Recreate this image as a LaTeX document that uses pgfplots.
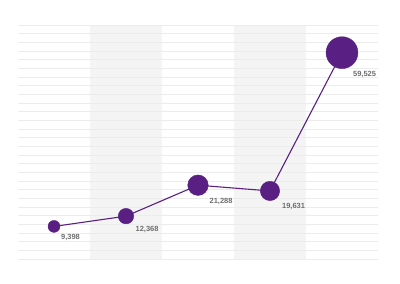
\documentclass[border=0pt]{standalone}
\usepackage{pgfplots}
\pgfplotsset{compat=1.18}
\usepackage{pgfplotstable}
\usepackage{fontspec}
\setmainfont{Liberation Sans}
\definecolor{purp}{HTML}{5A1F82}
\definecolor{band}{HTML}{F4F4F4}
\definecolor{gridc}{HTML}{ECECEC}
\definecolor{lbl}{HTML}{6E6E6E}
\pgfplotstableread{
x y r dx dy lab
0 9398 6 7 11 9,398
1 12368 7.8 9.5 13.5 12,368
2 21288 10.3 11.5 16.5 21,288
3 19631 9.7 12 15.5 19,631
4 59525 16 11 21.5 59,525
}\data
\begin{document}
\begin{tikzpicture}
\begin{axis}[
  at={(18bp,25bp)}, anchor=south west,
  scale only axis, width=360bp, height=234bp,
  xmin=-0.5, xmax=4.5, ymin=0, ymax=67500,
  axis line style={draw=none}, tick style={draw=none},
  xtick=\empty, ytick={0,2500,...,67500}, yticklabels=\empty,
  scaled y ticks=false,
  ymajorgrids, grid style={gridc, line width=0.6pt},
  set layers, clip=false,
]
\addplot[on layer=axis background, fill=band, draw=none] coordinates {(0.5,0) (0.5,67500) (1.5,67500) (1.5,0)} -- cycle;
\addplot[on layer=axis background, fill=band, draw=none] coordinates {(2.5,0) (2.5,67500) (3.5,67500) (3.5,0)} -- cycle;
\addplot[purp, line width=1.1pt, no marks] table[x=x,y=y]{\data};
\addplot[scatter, only marks, mark=*,
  scatter/use mapped color={draw=purp, fill=purp},
  visualization depends on={\thisrow{r}\as\rad},
  scatter/@pre marker code/.append style={/tikz/mark size=\rad},
] table[x=x,y=y]{\data};
\addplot[only marks, mark=none,
  point meta=explicit symbolic,
  visualization depends on={\thisrow{dx}\as\dx},
  visualization depends on={\thisrow{dy}\as\dy},
  nodes near coords,
  every node near coord/.append style={anchor=west, xshift=\dx pt, yshift=-\dy pt,
    font=\bfseries\fontsize{7.5}{8}\selectfont, text=lbl, inner sep=0pt},
] table[x=x,y=y,meta=lab]{\data};
\end{axis}
\path (0,0) rectangle (400bp,284bp);
\end{tikzpicture}
\end{document}
